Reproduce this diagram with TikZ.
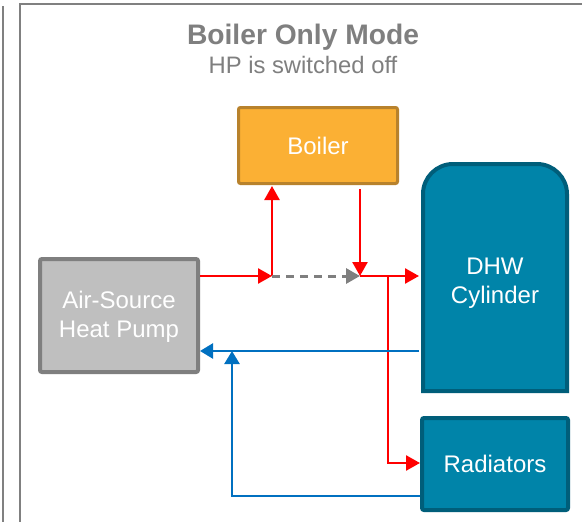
\documentclass[tikz,border=0pt]{standalone}
\usepackage{fontspec}
\setmainfont{Liberation Sans}
\usetikzlibrary{arrows.meta}
\definecolor{panelgray}{HTML}{808080}
\definecolor{titlegray}{HTML}{7F7F7F}
\definecolor{orfill}{HTML}{FBB034}
\definecolor{ordraw}{HTML}{B8822C}
\definecolor{tlfill}{HTML}{0084A9}
\definecolor{tldraw}{HTML}{005E7A}
\definecolor{gyfill}{HTML}{BFBFBF}
\definecolor{gydraw}{HTML}{7F7F7F}
\definecolor{hotred}{HTML}{FF0000}
\definecolor{coldblue}{HTML}{0070C0}
\tikzset{
  panel/.style={draw=panelgray, line width=2.5pt},
  boxtext/.style={text=white, font=\fontsize{24}{29}\selectfont, align=center, inner sep=0pt},
  boilerbox/.style={boxtext, rectangle, rounded corners=2pt, fill=orfill, draw=ordraw, line width=3pt, minimum width=159pt, minimum height=76pt},
  ashpbox/.style={boxtext, rectangle, rounded corners=2pt, fill=gyfill, draw=gydraw, line width=4pt, minimum width=158pt, minimum height=113pt},
  radbox/.style={boxtext, rectangle, rounded corners=2pt, fill=tlfill, draw=tldraw, line width=4pt, minimum width=146pt, minimum height=92pt},
  dhwshape/.style={fill=tlfill, draw=tldraw, line width=4pt},
  hot/.style={draw=hotred, line width=2.5pt, -{Triangle[length=14pt,width=15pt]}},
  cold/.style={draw=coldblue, line width=2.5pt, -{Triangle[length=13pt,width=15pt]}},
  bypass/.style={draw=gydraw, line width=3pt, dash pattern=on 8pt off 6pt, -{Triangle[length=14pt,width=15pt]}},
}
\begin{document}
\begin{tikzpicture}[x=1pt,y=1pt]
\useasboundingbox (0,0) rectangle (582,-522);
\clip (0,0) rectangle (582,-522);
\fill[white] (0,0) rectangle (582,-522);
% panels
\draw[panel] (3,-6) -- (3,-540);
\draw[panel] (20,-4) rectangle (600,-540);
% titles
\node[anchor=base, text=titlegray, font=\fontsize{28.2}{33}\selectfont\bfseries, inner sep=0pt] (title) at (303,-44) {Boiler Only Mode};
\node[anchor=base, text=titlegray, font=\fontsize{23.8}{28}\selectfont, inner sep=0pt] (subtitle) at (303,-74) {HP is switched off};
% DHW cylinder shape
\draw[dhwshape] (423,-391) -- (423,-194) arc[start angle=180, end angle=90, radius=30] -- (537,-164) arc[start angle=90, end angle=0, radius=30] -- (567,-391) -- cycle;
\node[minimum width=148pt, minimum height=231pt, inner sep=0pt, outer sep=2pt] (dhw) at (495,-277.5) {};
\node[boxtext] (dhwtext) at (495,-283) {DHW\\Cylinder};
% boxes
\node[boilerbox] (boiler) at (318,-145.5) {Boiler};
\node[ashpbox] (ashp) at (119,-315.5) {};
\node[boxtext] (ashptext) at (119,-317) {Air-Source\\Heat Pump};
\node[radbox] (rad) at (495,-464) {Radiators};
% junctions
\coordinate (j1) at (272,-276);
\coordinate (j2) at (360,-276);
\coordinate (j3) at (388,-276);
\coordinate (j4) at (232,-351);
\coordinate (j5) at (232,-496);
\coordinate (j6) at (388,-463);
% hot flow
\draw[hot] (ashp.east |- j1) -- (j1);
\draw[hot] (j1) -- ([yshift=-1pt]j1 |- boiler.south);
\draw[bypass] (j1) -- (j2);
\draw[hot] ([yshift=-4pt]j2 |- boiler.south) -- (j2);
\draw[hot] (j2) -- (j2 -| dhw.west);
\draw[hot] (j3) -- (j6) -- (j6 -| rad.west);
% cold return
\draw[cold] (dhw.west |- j4) -- (ashp.east |- j4);
\draw[cold] (rad.west |- j5) -- (j5) -- (j4);
\end{tikzpicture}
\end{document}
